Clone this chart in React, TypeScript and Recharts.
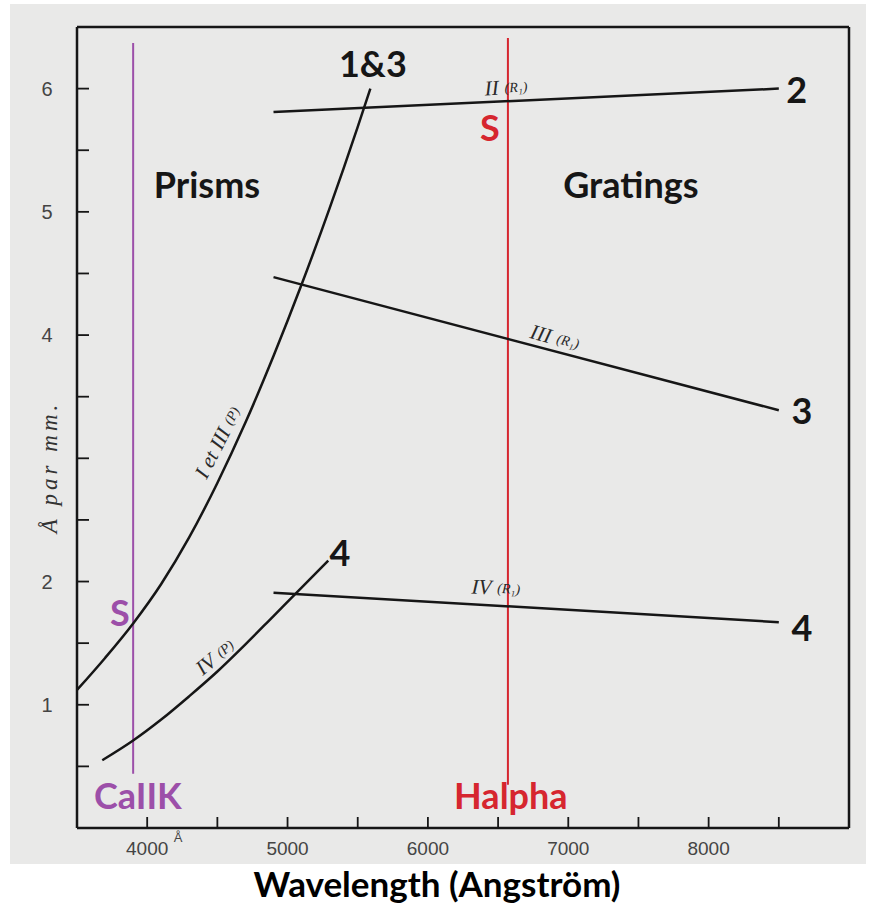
import { ComposedChart, Line, XAxis, YAxis, ReferenceLine, ReferenceDot } from "recharts";

const INK = "#161616";
const PURPLE = "#9c4fa9";
const RED = "#d6262f";

// axes
const xTicks = [4000, 4500, 5000, 5500, 6000, 6500, 7000, 7500, 8000, 8500];
const xLabelled = [4000, 5000, 6000, 7000, 8000];
const yTicks = [0.5, 1, 1.5, 2, 2.5, 3, 3.5, 4, 4.5, 5, 5.5, 6];
const yLabelled = [1, 2, 4, 5, 6];

// prism curves (wavelength, A/mm)
const prism13X = [3500, 3700, 3900, 4100, 4300, 4500, 4700, 4900, 5100, 5300, 5500, 5590];
const prism13Y = [1.12, 1.38, 1.66, 1.98, 2.36, 2.8, 3.29, 3.83, 4.41, 5.03, 5.69, 6.0];
const prism4X = [3680, 3900, 4100, 4300, 4500, 4700, 4900, 5100, 5290];
const prism4Y = [0.55, 0.71, 0.88, 1.07, 1.27, 1.49, 1.72, 1.95, 2.17];

// grating lines
const gratingX = [4900, 8500];
const grating2Y = [5.81, 6.0];
const grating3Y = [4.47, 3.39];
const grating4Y = [1.91, 1.67];

// spectral lines
const caK = { x: 3900, from: 0.44, to: 6.37 };
const hAlpha = { x: 6570, from: 0.35, to: 6.41 };

// bold annotations
const noteText = ["1&3", "2", "3", "4", "4", "Prisms", "Gratings", "S", "S", "CaIIK", "Halpha"];
const noteX = [5608, 8628, 8664, 8664, 5373, 4426, 7446, 3806, 6442, 3934, 6591];
const noteY = [6.21, 6.0, 3.39, 1.63, 2.24, 5.23, 5.23, 1.75, 5.69, 0.27, 0.27];
const noteColor = [INK, INK, INK, INK, INK, INK, INK, PURPLE, RED, PURPLE, RED];

// italic curve labels
const curveLabel = ["II", "III", "IV", "I et III", "IV"];
const curveSub = ["(R₁)", "(R₁)", "(R₁)", "(P)", "(P)"];
const curveLabelX = [6556, 6905, 6484, 4504, 4483];
const curveLabelY = [6.01, 3.98, 1.95, 3.13, 1.39];
const curveLabelAngle = [-3, 15, 3, -63, -40];

const zip = (xs: number[], ys: number[]) => xs.map((x, i) => ({ x, y: ys[i] }));

function LeftTick({ x, y, payload }: any) {
  const v = payload.value;
  return (
    <g>
      <line x1={x} y1={y} x2={x + 12} y2={y} stroke={INK} strokeWidth={1.8} />
      {yLabelled.includes(v) && (
        <text x={x - 30} y={y} textAnchor="middle" dominantBaseline="central"
          fontFamily="Liberation Sans" fontSize={20} fill="#444">
          {v}
        </text>
      )}
    </g>
  );
}

function RightTick({ x, y }: any) {
  return <line x1={x - 12} y1={y} x2={x} y2={y} stroke={INK} strokeWidth={1.8} />;
}

function BottomTick({ x, y, payload }: any) {
  const v = payload.value;
  return (
    <g>
      <line x1={x} y1={y} x2={x} y2={y - 11} stroke={INK} strokeWidth={1.8} />
      {xLabelled.includes(v) && (
        <text x={x} y={y + 27} textAnchor="middle" fontFamily="Liberation Sans" fontSize={19} fill="#444">
          {v}
        </text>
      )}
      {v === 4000 && (
        <text x={x + 31} y={y + 14} textAnchor="middle" fontFamily="Liberation Sans" fontSize={13} fill="#444">
          Å
        </text>
      )}
    </g>
  );
}

function XTitle({ viewBox }: any) {
  return (
    <text x={viewBox.x + viewBox.width / 2 - 26} y={viewBox.y + viewBox.height - 18} textAnchor="middle"
      fontFamily="Lato" fontWeight={700} fontSize={35} fill="#000">
      Wavelength (Angström)
    </text>
  );
}

function YTitle({ viewBox }: any) {
  const cx = viewBox.x + 49;
  const cy = viewBox.y + 440;
  return (
    <text x={cx} y={cy} transform={`rotate(-90 ${cx} ${cy})`} textAnchor="middle" dominantBaseline="central"
      fontFamily="Liberation Serif" fontStyle="italic" fontSize={23} fill="#333" letterSpacing={4}>
      Å par mm.
    </text>
  );
}

export default function App() {
  return (
    <div style={{ position: "absolute", left: 0, top: 0, width: 875, height: 915, background: "#fff" }}>
      <div style={{ position: "absolute", left: 10, top: 4, width: 856, height: 860, background: "#e9e9e8" }} />
      <div style={{ position: "absolute", left: 0, top: 0 }}>
        <ComposedChart width={875} height={915} margin={{ top: 27, right: 0, bottom: 0, left: 0 }}>
          <XAxis dataKey="x" type="number" domain={[3500, 9000]} ticks={xTicks} allowDataOverflow
            height={87} tickSize={0} tickMargin={0} tickLine={false} interval={0}
            axisLine={{ stroke: INK, strokeWidth: 2.5 }} tick={<BottomTick />} label={<XTitle />} />
          <YAxis type="number" domain={[0, 6.5]} ticks={yTicks} allowDataOverflow width={77}
            tickSize={0} tickMargin={0} tickLine={false} interval={0}
            axisLine={{ stroke: INK, strokeWidth: 2.5 }} tick={<LeftTick />} label={<YTitle />} />
          <YAxis yAxisId="r" orientation="right" type="number" domain={[0, 6.5]} ticks={yTicks} width={26}
            tickSize={0} tickMargin={0} tickLine={false} interval={0}
            axisLine={{ stroke: INK, strokeWidth: 2.5 }} tick={<RightTick />} />
          <ReferenceLine y={6.5} stroke={INK} strokeWidth={2.5} />

          <ReferenceLine segment={[{ x: caK.x, y: caK.from }, { x: caK.x, y: caK.to }]} stroke={PURPLE} strokeWidth={2} />
          <ReferenceLine segment={[{ x: hAlpha.x, y: hAlpha.from }, { x: hAlpha.x, y: hAlpha.to }]} stroke={RED} strokeWidth={2} />

          <Line data={zip(prism13X, prism13Y)} dataKey="y" type="monotone" stroke={INK} strokeWidth={2.5} dot={false} isAnimationActive={false} />
          <Line data={zip(prism4X, prism4Y)} dataKey="y" type="monotone" stroke={INK} strokeWidth={2.5} dot={false} isAnimationActive={false} />
          <Line data={zip(gratingX, grating2Y)} dataKey="y" type="linear" stroke={INK} strokeWidth={2.5} dot={false} isAnimationActive={false} />
          <Line data={zip(gratingX, grating3Y)} dataKey="y" type="linear" stroke={INK} strokeWidth={2.5} dot={false} isAnimationActive={false} />
          <Line data={zip(gratingX, grating4Y)} dataKey="y" type="linear" stroke={INK} strokeWidth={2.5} dot={false} isAnimationActive={false} />

          {curveLabel.map((t, i) => (
            <ReferenceDot key={"c" + i} x={curveLabelX[i]} y={curveLabelY[i]} r={0} ifOverflow="visible"
              shape={(p: any) => (
                <text x={p.cx} y={p.cy} textAnchor="middle" dominantBaseline="central"
                  transform={`rotate(${curveLabelAngle[i]} ${p.cx} ${p.cy})`}
                  fontFamily="Liberation Serif" fontStyle="italic" fontSize={21} fill="#2a2a2a">
                  {t}
                  <tspan fontSize={14} dx={6}>{curveSub[i]}</tspan>
                </text>
              )} />
          ))}

          {noteText.map((t, i) => (
            <ReferenceDot key={"n" + i} x={noteX[i]} y={noteY[i]} r={0} ifOverflow="visible"
              shape={(p: any) => (
                <text x={p.cx} y={p.cy} textAnchor="middle" dominantBaseline="central"
                  fontFamily="Lato" fontWeight={700} fontSize={36} fill={noteColor[i]}>
                  {t}
                </text>
              )} />
          ))}
        </ComposedChart>
      </div>
    </div>
  );
}
